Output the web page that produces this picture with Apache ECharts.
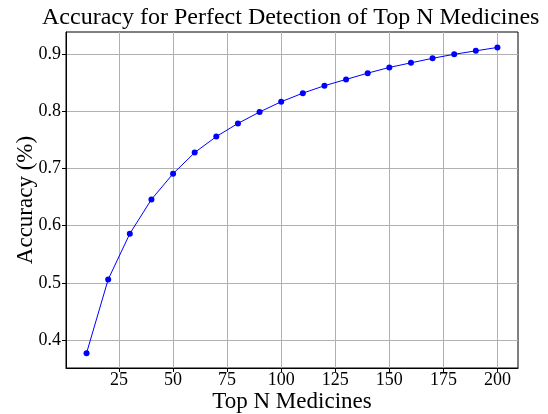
<!DOCTYPE html>
<html>
<head>
<meta charset="utf-8">
<script src="https://cdn.jsdelivr.net/npm/echarts@6/dist/echarts.min.js"></script>
<style>
html, body { margin: 0; padding: 0; background: #fff; }
#chart { width: 548px; height: 414px; }
</style>
</head>
<body>
<div id="chart"></div>
<script>
// Top-N cutoffs and the matching accuracy values
const topN = [10, 20, 30, 40, 50, 60, 70, 80, 90, 100, 110, 120, 130, 140, 150, 160, 170, 180, 190, 200];
const accuracy = [0.377, 0.506, 0.586, 0.646, 0.691, 0.728, 0.756, 0.779, 0.799, 0.817, 0.832, 0.845, 0.856, 0.867, 0.877, 0.885, 0.893, 0.900, 0.906, 0.912];
const xTicks = [25, 50, 75, 100, 125, 150, 175, 200];
const yTicks = [0.4, 0.5, 0.6, 0.7, 0.8, 0.9];

const FONT = "'Liberation Serif', 'Times New Roman', serif";
const GRID_COLOR = '#b0b0b0';

const chart = echarts.init(document.getElementById('chart'), null, { renderer: 'canvas' });

chart.setOption({
  animation: false,
  backgroundColor: '#fff',
  title: {
    text: 'Accuracy for Perfect Detection of Top N Medicines',
    left: 42,
    top: 6,
    padding: 0,
    textStyle: { fontFamily: FONT, fontSize: 24, fontWeight: 'normal', color: '#000' }
  },
  grid: {
    left: 66, right: 30, top: 32, bottom: 46,
    outerBoundsMode: 'none',
    containLabel: false,
    show: true, borderColor: '#000', borderWidth: 1, backgroundColor: 'transparent'
  },
  xAxis: {
    type: 'value',
    min: 0.5, max: 209.5,
    name: 'Top N Medicines',
    nameLocation: 'middle',
    nameMoveOverlap: false,
    nameGap: 22,
    nameTextStyle: { fontFamily: FONT, fontSize: 23, color: '#000' },
    axisLine: { show: true, lineStyle: { color: '#000', width: 1 } },
    axisTick: { show: true, inside: false, length: 4, customValues: xTicks, lineStyle: { color: '#000' } },
    axisLabel: { customValues: xTicks, fontFamily: FONT, fontSize: 18, color: '#000', margin: 3 },
    splitLine: { show: true, lineStyle: { color: GRID_COLOR, width: 1 } }
  },
  yAxis: {
    type: 'value',
    min: 0.351, max: 0.939,
    name: 'Accuracy (%)',
    nameLocation: 'middle',
    nameMoveOverlap: false,
    nameGap: 29,
    nameTextStyle: { fontFamily: FONT, fontSize: 23, color: '#000' },
    axisLine: { show: true, lineStyle: { color: '#000', width: 1 } },
    axisTick: { show: true, inside: false, length: 4, customValues: yTicks, lineStyle: { color: '#000' } },
    axisLabel: { customValues: yTicks, fontFamily: FONT, fontSize: 18, color: '#000', margin: 5,
      formatter: v => v.toFixed(1) },
    splitLine: { show: true, lineStyle: { color: GRID_COLOR, width: 1 } }
  },
  series: [{
    type: 'line',
    data: topN.map((n, i) => [n, accuracy[i]]),
    symbol: 'circle',
    symbolSize: 6,
    showSymbol: true,
    lineStyle: { color: '#0000ff', width: 1 },
    itemStyle: { color: '#0000ff' }
  }]
});
</script>
</body>
</html>
